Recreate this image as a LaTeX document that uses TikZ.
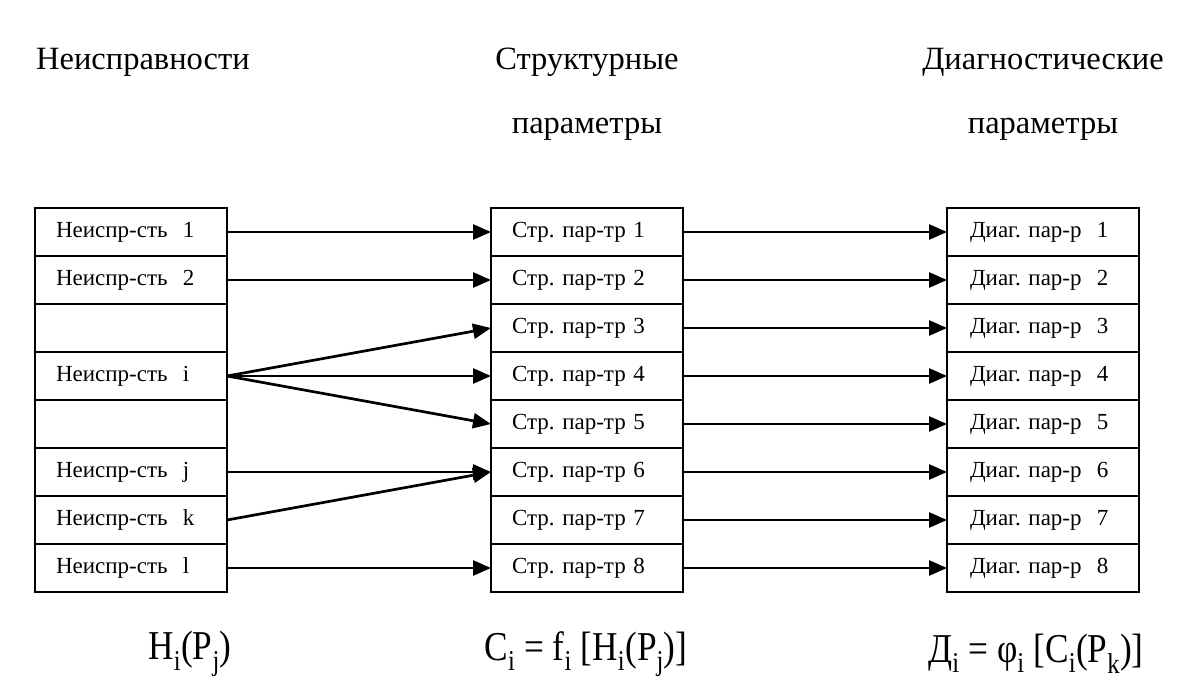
\documentclass[tikz,border=0pt]{standalone}
\usepackage{fontspec}
\setmainfont{Liberation Serif}
\usetikzlibrary{arrows.meta}
\frenchspacing
\begin{document}
\begin{tikzpicture}[x=1pt,y=-1pt,
  cell/.style={draw, line width=1.8pt, minimum height=48pt, text width=150pt,
    inner xsep=21pt, inner ysep=0pt, outer sep=0pt, align=left,
    font=\fontsize{23}{27}\selectfont, anchor=north west},
  link/.style={line width=2.7pt, -{Triangle[length=18pt,width=15pt]}},
  head/.style={font=\fontsize{32.5}{38}\selectfont},
  formula/.style={font=\fontsize{41}{46}\selectfont, xscale=0.86}
]
\useasboundingbox (0,0) rectangle (1186,693);

% column headings
\node[head] (hA)  at (143,62)  {Неисправности};
\node[head] (hB)  at (587,62)  {Структурные};
\node[head] (hB2) at (587,129) {параметры};
\node[head] (hC)  at (1043,62) {Диагностические};
\node[head] (hC2) at (1043,129){параметры};

% left column: faults
\foreach \k/\t in {1/{Неиспр-сть\ \ 1},2/{Неиспр-сть\ \ 2},3/{},4/{Неиспр-сть\ \ i},
                   5/{},6/{Неиспр-сть\ \ j},7/{Неиспр-сть\ \ k},8/{Неиспр-сть\ \ l}}
  \node[cell] (L\k) at (35,{208+48*(\k-1)}) {\t\strut};

% middle column: structural parameters
\foreach \k in {1,...,8}
  \node[cell] (M\k) at (491,{208+48*(\k-1)}) {Стр. пар-тр \k\strut};

% right column: diagnostic parameters
\foreach \k in {1,...,8}
  \node[cell, inner xsep=23pt, text width=146pt] (R\k) at (947,{208+48*(\k-1)}) {Диаг. пар-р\ \ \k\strut};

% faults -> structural parameters
\draw[link] (L1.east) -- (M1.west);
\draw[link] (L2.east) -- (M2.west);
\draw[link] (L4.east) -- (M3.west);
\draw[link] (L4.east) -- (M4.west);
\draw[link] (L4.east) -- (M5.west);
\draw[link] (L6.east) -- (M6.west);
\draw[link] (L7.east) -- (M6.west);
\draw[link] (L8.east) -- (M8.west);

% structural -> diagnostic parameters
\foreach \k in {1,...,8}
  \draw[link] (M\k.east) -- (R\k.west);

% relations under the columns
\node[formula] (fA) at (190,654) {Н\textsubscript{i}(Р\textsubscript{j})};
\node[formula] (fB) at (586,654) {С\textsubscript{i} = f\textsubscript{i} [Н\textsubscript{i}(Р\textsubscript{j})]};
\node[formula] (fC) at (1036,654) {Д\textsubscript{i} = φ\textsubscript{i} [С\textsubscript{i}(Р\textsubscript{k})]};
\end{tikzpicture}
\end{document}
